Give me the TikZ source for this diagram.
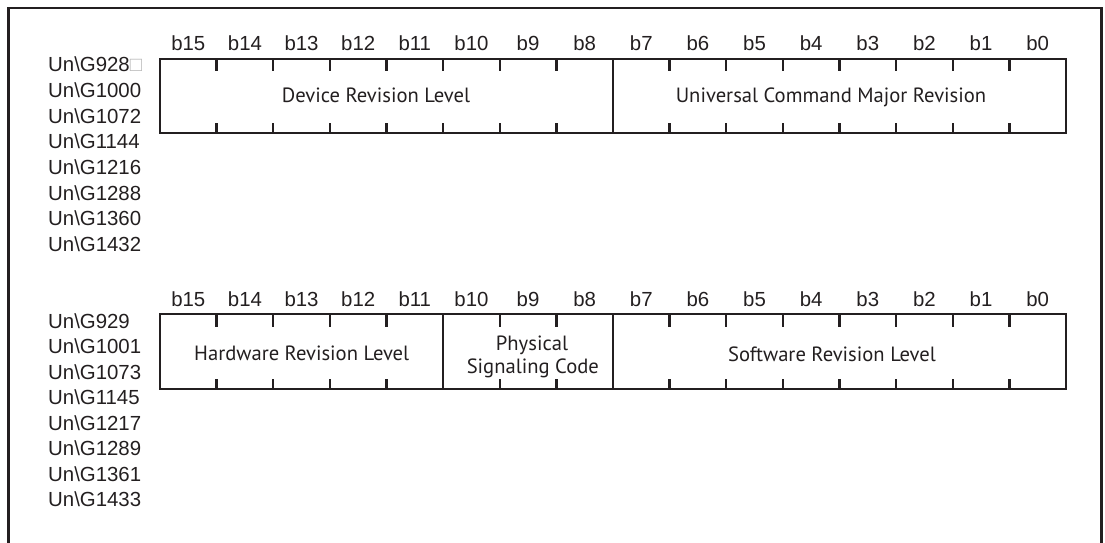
\documentclass[tikz,border=0pt]{standalone}
\usepackage{fontspec}
\setmainfont{Liberation Sans}
\newfontfamily\boxfont{PT Sans}
\newlength\hwlen
\definecolor{ink}{HTML}{231F20}
\AtBeginDocument{%
  \settowidth\hwlen{\boxfont\fontsize{10}{12}\selectfont Hardware Revision Level}%
  \pgfmathsetmacro\bsz{10*215/\hwlen}%
  \global\let\bsz\bsz}
\begin{document}
\begin{tikzpicture}[x=1pt,y=-1pt,
  frame/.style={line width=2.5pt,draw=ink},
  outline/.style={line width=2pt,draw=ink},
  divider/.style={line width=2.5pt,draw=ink},
  tick/.style={line width=2.4pt,draw=ink},
  bitlbl/.style={anchor=base,inner sep=0pt,text=ink,font=\fontsize{20.4}{24}\selectfont},
  unlbl/.style={anchor=base west,inner sep=0pt,text=ink,font=\fontsize{20.4}{24}\selectfont},
  fieldlbl/.style={anchor=base,inner sep=0pt,text=ink,font=\boxfont\fontsize{\bsz}{\bsz}\selectfont},
]
\useasboundingbox (0,0) rectangle (1105,542);
% outer frame (open at the bottom)
\draw[frame] (8.5,543) -- (8.5,8) -- (1101.5,8) -- (1101.5,543);
\def\bw{56.625}
% ---------- first register ----------
\foreach \i in {0,...,15}{
  \pgfmathtruncatemacro\b{15-\i}
  \node[bitlbl] (ra\i) at ({160+(\i+0.5)*\bw},50) {b\b};
}
\node[unlbl] (ua0) at (48,71.7) {Un\textbackslash G928{\color{gray!55}□}};
\foreach \t [count=\k] in {1000,1072,1144,1216,1288,1360,1432}{
  \node[unlbl] (ua\k) at (48,{71.7+25.7*\k}) {Un\textbackslash G\t};
}
\coordinate (a1) at (160,59);
\coordinate (a2) at (1066,133.3);
\draw[outline] (a1) rectangle (a2);
\draw[divider] ({160+8*\bw},59) -- ({160+8*\bw},133.3);
\foreach \i in {1,...,7,9,10,...,15}{
  \draw[tick] ({160+\i*\bw},59) -- ({160+\i*\bw},71);
  \draw[tick] ({160+\i*\bw},123.3) -- ({160+\i*\bw},133.3);
}
\node[fieldlbl] (dev) at (376,102.7) {Device Revision Level};
\node[fieldlbl] (ucm) at (831,102.7) {Universal Command Major Revision};
% ---------- second register ----------
\foreach \i in {0,...,15}{
  \pgfmathtruncatemacro\b{15-\i}
  \node[bitlbl] (rb\i) at ({160+(\i+0.5)*\bw},306.7) {b\b};
}
\foreach \t [count=\k from 0] in {929,1001,1073,1145,1217,1289,1361,1433}{
  \node[unlbl] (ub\k) at (48,{328.3+25.45*\k}) {Un\textbackslash G\t};
}
\coordinate (b1) at (160,314);
\coordinate (b2) at (1066,389.3);
\draw[outline] (b1) rectangle (b2);
\draw[divider] ({160+5*\bw},314) -- ({160+5*\bw},389.3);
\draw[divider] ({160+8*\bw},314) -- ({160+8*\bw},389.3);
\foreach \i in {1,...,4,6,7,9,10,...,15}{
  \draw[tick] ({160+\i*\bw},314) -- ({160+\i*\bw},327);
  \draw[tick] ({160+\i*\bw},379.3) -- ({160+\i*\bw},389.3);
}
\node[fieldlbl] (hw) at (301.7,360.7) {Hardware Revision Level};
\node[fieldlbl] (ps1) at (532,350) {Physical};
\node[fieldlbl] (ps2) at (532.8,373.3) {Signaling Code};
\node[fieldlbl] (sw) at (832,361.7) {Software Revision Level};
\end{tikzpicture}
\end{document}
